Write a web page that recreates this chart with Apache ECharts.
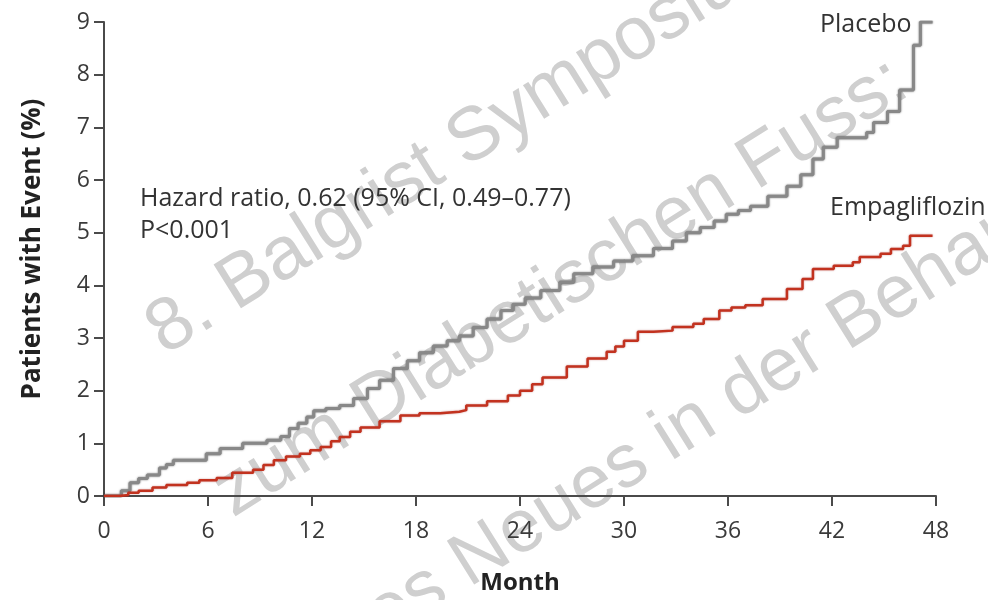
<!DOCTYPE html>
<html>
<head>
<meta charset="utf-8">
<script src="https://cdn.jsdelivr.net/npm/echarts@6/dist/echarts.min.js"></script>
<style>
  html, body { margin: 0; padding: 0; background: #fff; }
  #chart { width: 988px; height: 600px; }
</style>
</head>
<body>
<div id="chart"></div>
<script>
// x axis ticks (months) and y axis range
var monthTicks = [0, 6, 12, 18, 24, 30, 36, 42, 48];
var pctTicks = [0, 1, 2, 3, 4, 5, 6, 7, 8, 9];

// Placebo curve
var placeboMonth = [0, 0.6, 1.0, 1.5, 2.0, 2.5, 3.2, 3.6, 4.0, 5.5, 5.9, 6.7, 8.0, 9.4, 10.2, 10.7, 11.2, 11.7, 12.1, 12.8,
  13.6, 14.4, 15.2, 15.9, 16.7, 17.5, 18.2, 19.0, 19.8, 20.5, 21.3, 22.1, 22.9, 23.6, 24.3, 25.2, 26.3, 27.1, 28.2, 29.4,
  30.5, 31.7, 32.8, 33.6, 34.4, 35.2, 35.9, 36.6, 37.3, 38.3, 39.4, 40.2, 40.9, 41.5, 42.3, 44.0, 44.4, 45.2, 45.9, 46.7, 47.1, 47.8];
var placeboPct = [0, 0, 0.1, 0.25, 0.33, 0.4, 0.53, 0.6, 0.68, 0.68, 0.8, 0.9, 1.0, 1.06, 1.13, 1.28, 1.38, 1.5, 1.62, 1.66,
  1.72, 1.85, 2.04, 2.2, 2.42, 2.57, 2.72, 2.85, 2.95, 3.04, 3.2, 3.36, 3.52, 3.64, 3.76, 3.9, 4.06, 4.22, 4.35, 4.46,
  4.56, 4.7, 4.84, 5.0, 5.1, 5.22, 5.35, 5.42, 5.5, 5.69, 5.88, 6.1, 6.4, 6.62, 6.8, 6.9, 7.09, 7.3, 7.71, 8.56, 9.0, 9.0];

// Empagliflozin curve
var empaMonth = [0, 0.9, 1.4, 2.0, 2.8, 3.6, 4.8, 5.5, 6.5, 7.4, 8.6, 9.2, 9.8, 10.5, 11.3, 11.9, 12.5, 13.1, 13.6, 14.2,
  14.8, 15.9, 17.1, 18.2, 19.4, 20.5, 20.9, 22.1, 23.3, 24.0, 24.7, 25.3, 26.7, 27.9, 29.0, 29.5, 30.0, 30.8, 31.7, 32.8,
  34.0, 34.6, 35.5, 36.2, 37.0, 38.0, 39.4, 40.3, 40.9, 42.1, 43.2, 43.6, 44.8, 45.4, 46.1, 46.5, 47.8];
var empaPct = [0, 0.02, 0.06, 0.1, 0.16, 0.21, 0.25, 0.3, 0.34, 0.44, 0.5, 0.59, 0.68, 0.75, 0.8, 0.87, 0.93, 1.04, 1.12, 1.22,
  1.3, 1.42, 1.53, 1.57, 1.6, 1.63, 1.72, 1.8, 1.91, 2.0, 2.12, 2.25, 2.46, 2.61, 2.74, 2.84, 2.95, 3.12, 3.14, 3.21,
  3.27, 3.36, 3.52, 3.58, 3.62, 3.74, 3.93, 4.12, 4.31, 4.37, 4.44, 4.54, 4.6, 4.69, 4.75, 4.94, 4.94];

function pairs(xs, ys) {
  var out = [];
  for (var i = 0; i < xs.length; i++) out.push([xs[i], ys[i]]);
  return out;
}

var axisColor = '#4a4a4a';
var font = 'Open Sans';

// faint watermark lines across the plot
function mark(text, x, y) {
  return {
    type: 'text', x: x, y: y, rotation: 32 * Math.PI / 180, z: -10,
    style: { text: text, x: 0, y: 0, align: 'left', verticalAlign: 'bottom',
      font: '75px "Liberation Sans"', fill: '#cfcfcf' }
  };
}

var option = {
  animation: false,
  backgroundColor: '#fff',
  grid: { left: 104, right: 52, top: 22, bottom: 102 },
  xAxis: {
    type: 'value', min: monthTicks[0], max: monthTicks[monthTicks.length - 1], interval: 6,
    name: 'Month', nameLocation: 'middle', nameGap: 75,
    nameTextStyle: { fontFamily: font, fontWeight: 'bold', fontSize: 24, color: '#222' },
    axisLine: { lineStyle: { color: axisColor, width: 2 } },
    axisTick: { show: true, length: 10, lineStyle: { color: axisColor, width: 2 } },
    axisLabel: { fontFamily: font, fontSize: 23, color: '#3a3a3a', margin: 24 },
    splitLine: { show: false }
  },
  yAxis: {
    type: 'value', min: pctTicks[0], max: pctTicks[pctTicks.length - 1], interval: 1,
    axisLine: { show: true, lineStyle: { color: axisColor, width: 2 } },
    axisTick: { show: true, length: 10, lineStyle: { color: axisColor, width: 2 } },
    axisLabel: { fontFamily: font, fontSize: 23, color: '#3a3a3a', margin: 14 },
    splitLine: { show: false }
  },
  graphic: [
    mark('8. Balgrist Symposium:', 174, 370),
    mark('zum Diabetischen Fuss:', 242, 532),
    mark('es Neues in der Behandlung', 393, 655),
    { type: 'text', x: 33, y: 249, rotation: Math.PI / 2, z: 10,
      style: { text: 'Patients with Event (%)', x: 0, y: 0, align: 'center', verticalAlign: 'middle',
        font: 'bold 26px "Open Sans"', fill: '#222' } },
    { type: 'text', left: 140, top: 183, z: 10,
      style: { text: 'Hazard ratio, 0.62 (95% CI, 0.49\u20130.77)\nP<0.001', font: '25px "Open Sans"', fill: '#333', lineHeight: 32 } },
    { type: 'text', left: 820, top: 12, z: 10,
      style: { text: 'Placebo', font: '25px "Open Sans"', fill: '#333' } },
    { type: 'text', left: 830, top: 195, z: 10,
      style: { text: 'Empagliflozin', font: '25px "Open Sans"', fill: '#333' } }
  ],
  series: [
    {
      name: 'Placebo', type: 'line', step: 'end', symbol: 'none', z: 3,
      data: pairs(placeboMonth, placeboPct),
      lineStyle: { color: '#888888', width: 3, shadowColor: 'rgba(0,0,0,0.55)', shadowBlur: 2 }
    },
    {
      name: 'Empagliflozin', type: 'line', step: 'end', symbol: 'none', z: 3,
      data: pairs(empaMonth, empaPct),
      lineStyle: { color: '#c2321f', width: 2.5, shadowColor: 'rgba(140,0,0,0.4)', shadowBlur: 2 }
    }
  ]
};

var myChart = echarts.init(document.getElementById('chart'));
myChart.setOption(option);
</script>
</body>
</html>
